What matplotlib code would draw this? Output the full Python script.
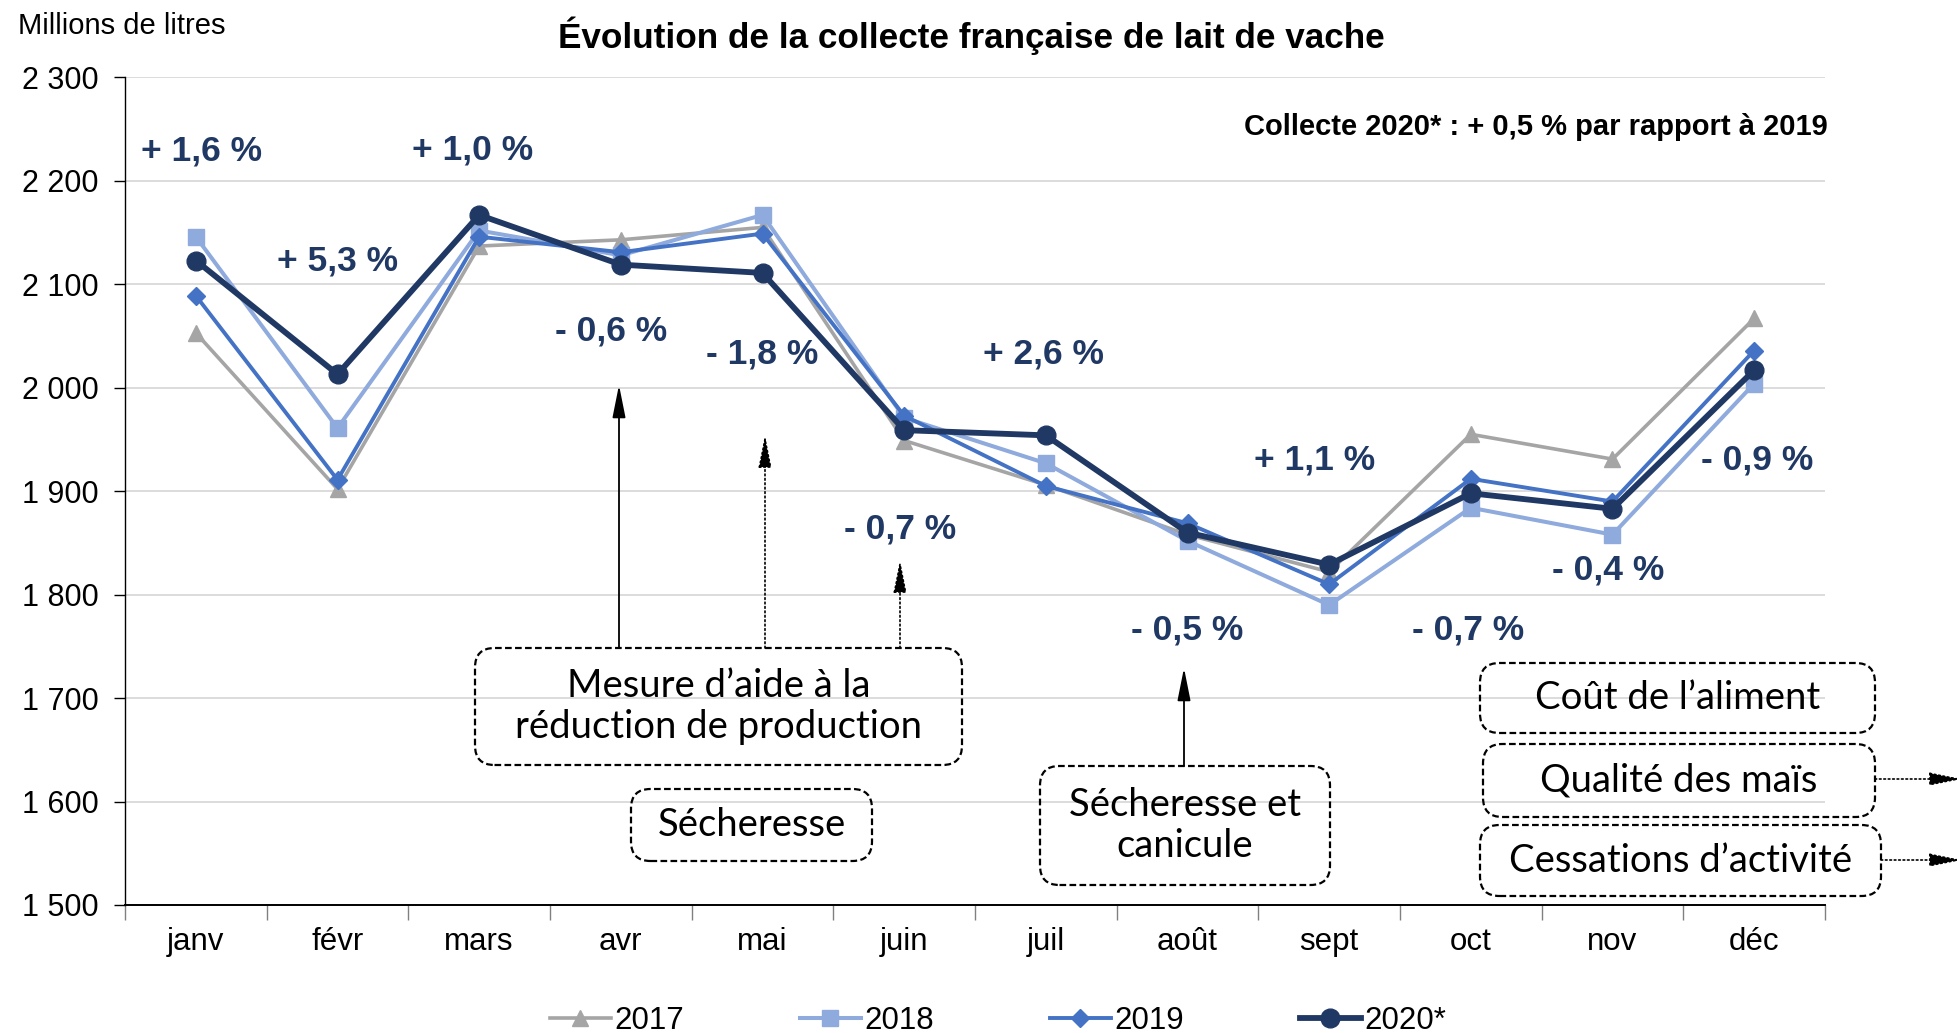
import matplotlib
matplotlib.use("Agg")
import matplotlib.pyplot as plt
from matplotlib.patches import FancyBboxPatch, FancyArrowPatch
from matplotlib.transforms import IdentityTransform

# ---------------- data ----------------
months = ["janv", "févr", "mars", "avr", "mai", "juin", "juil", "août", "sept", "oct", "nov", "déc"]
v2017 = [2053, 1902, 2137, 2143, 2155, 1949, 1906, 1858, 1822, 1955, 1931, 2067]
v2018 = [2146, 1961, 2152, 2128, 2167, 1971, 1927, 1852, 1790, 1884, 1858, 2004]
v2019 = [2089, 1911, 2146, 2131, 2149, 1973, 1905, 1869, 1810, 1912, 1890, 2036]
v2020 = [2123, 2013, 2167, 2119, 2111, 1959, 1954, 1860, 1829, 1898, 1883, 2017]
series_names = ["2017", "2018", "2019", "2020*"]
pct_labels = ["+ 1,6 %", "+ 5,3 %", "+ 1,0 %", "- 0,6 %", "- 1,8 %", "- 0,7 %",
              "+ 2,6 %", "- 0,5 %", "+ 1,1 %", "- 0,7 %", "- 0,4 %", "- 0,9 %"]
yticks = [1500, 1600, 1700, 1800, 1900, 2000, 2100, 2200, 2300]

# layout of the percent labels (month position, y level)
pct_x = [0.04, 1.0, 1.95, 2.93, 4.0, 4.97, 5.98, 7.0, 7.9, 8.98, 9.97, 11.02]
pct_y = [2229, 2123, 2230, 2055, 2033, 1863, 2033, 1766, 1930, 1766, 1824, 1930]

W, H = 1957, 1033
SANS = ["Liberation Sans", "DejaVu Sans"]
BOXF = ["Lato", "DejaVu Sans"]
NAVY = "#203864"

fig = plt.figure(figsize=(W / 100, H / 100), dpi=100)
ax = fig.add_axes([125 / W, 1 - 905 / H, (1825 - 125) / W, (905 - 77.4) / H])

x = list(range(len(months)))
ax.plot(x, v2017, color="#A5A5A5", lw=2.6, marker="^", ms=12, label=series_names[0], zorder=3)
ax.plot(x, v2018, color="#8FAADC", lw=2.9, marker="s", ms=11.5, label=series_names[1], zorder=4)
ax.plot(x, v2019, color="#4472C4", lw=2.8, marker="D", ms=9, label=series_names[2], zorder=5)
ax.plot(x, v2020, color=NAVY, lw=4.2, marker="o", ms=13.5, label=series_names[3], zorder=6)

ax.set_xlim(-0.5, 11.5)
ax.set_ylim(1500, 2300)
ax.set_yticks(yticks)
ax.set_yticklabels([f"{v:,}".replace(",", " ") for v in yticks], family=SANS, fontsize=22)
ax.yaxis.grid(True, color="#D9D9D9", lw=1.3)
ax.set_axisbelow(True)

ax.set_xticks([i - 0.5 for i in range(13)])
ax.set_xticklabels([])
ax.set_xticks(x, minor=True)
ax.set_xticklabels(months, minor=True, family=SANS, fontsize=22.5)
ax.tick_params(axis="x", which="major", length=11, width=1.0, color="#808080", direction="out")
ax.tick_params(axis="x", which="minor", length=0, pad=16)
ax.tick_params(axis="y", length=8, width=1.0, pad=11)
for s in ["top", "right"]:
    ax.spines[s].set_visible(False)
ax.spines["left"].set_linewidth(1.0)
ax.spines["bottom"].set_linewidth(1.4)

# percent labels
for xi, yi, t in zip(pct_x, pct_y, pct_labels):
    ax.text(xi, yi, t, ha="center", va="center", color=NAVY, fontsize=25.5,
            fontweight="bold", family=SANS, zorder=7)

# titles
fig.text(18 / W, 1 - 26 / H, "Millions de litres", family=SANS, fontsize=21, va="center", ha="left")
fig.text(971 / W, 1 - 36 / H, "Évolution de la collecte française de lait de vache",
         family=SANS, fontsize=25.3, fontweight="bold", ha="center", va="center")
fig.text(1828 / W, 1 - 127 / H, "Collecte 2020* : + 0,5 % par rapport à 2019",
         family=SANS, fontsize=21, fontweight="bold", ha="right", va="center")

PIX = IdentityTransform()


def box(x0, y0, x1, y1, text, fs=27.5):
    r = 15
    p = FancyBboxPatch((x0 + r, H - y1 + r), (x1 - x0) - 2 * r, (y1 - y0) - 2 * r,
                       boxstyle=f"round,pad={r},rounding_size={r * 1.3}", transform=PIX,
                       fill=False, ec="black", lw=1.6, ls=(0, (3, 1.5)), zorder=10)
    fig.add_artist(p)
    fig.text((x0 + x1) / 2 / W, 1 - (y0 + y1) / 2 / H, text, ha="center", va="center",
             family=BOXF, fontsize=fs, linespacing=1.2, zorder=11)


box(475, 648, 962, 765, "Mesure d’aide à la\nréduction de production")
box(631, 789, 872, 861, "Sécheresse")
box(1040, 766, 1330, 885, "Sécheresse et\ncanicule")
box(1480, 663, 1875, 733, "Coût de l’aliment")
box(1483, 744, 1875, 817, "Qualité des maïs")
box(1480, 825, 1881, 896, "Cessations d’activité")


def farrow(x0, y0, x1, y1, ls="-"):
    fig.add_artist(FancyArrowPatch(
        (x0, H - y0), (x1, H - y1), transform=PIX,
        arrowstyle="-|>,head_length=1.0,head_width=0.2", mutation_scale=20,
        lw=1.3 if ls == "-" else 1.2, ls=ls, color="black", zorder=9,
        shrinkA=0, shrinkB=0))


farrow(619, 648, 619, 385, "-")
farrow(765, 648, 765, 435, ":")
farrow(900, 648, 900, 560, ":")
farrow(1184, 766, 1184, 668, "-")
farrow(1875, 779, 1962, 779, ":")
farrow(1881, 860, 1962, 860, ":")

# legend
handles, labels = ax.get_legend_handles_labels()
leg = fig.legend(handles, labels, loc="center", bbox_to_anchor=(0.51, 0.012), ncol=4,
                 frameon=False, prop={"family": SANS, "size": 22.5}, handlelength=1.95,
                 handletextpad=0.12, columnspacing=3.7, borderaxespad=0)

fig.savefig("out.png", dpi=100)
